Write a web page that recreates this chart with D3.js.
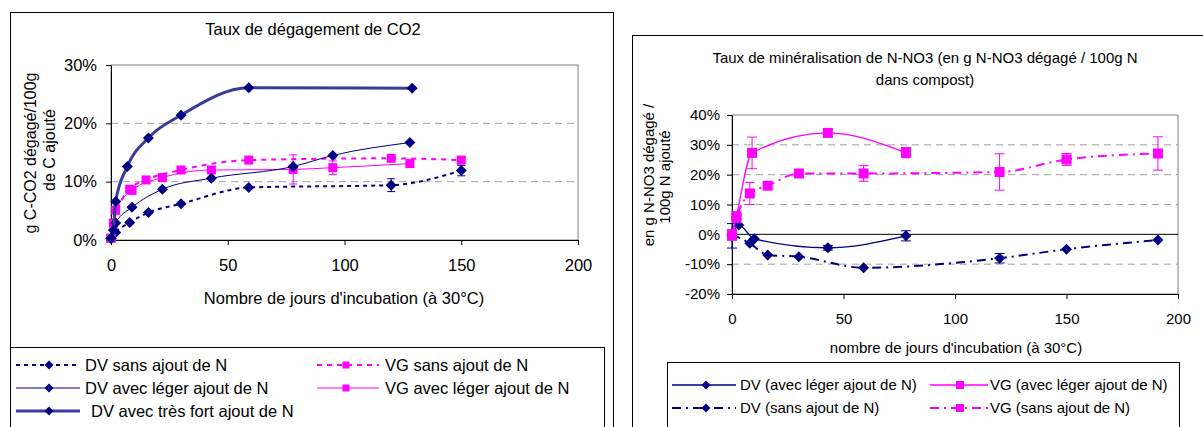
<!DOCTYPE html>
<html lang="fr">
<head>
<meta charset="UTF-8">
<title>Taux de dégagement de CO2 et minéralisation de N-NO3</title>
<script src="https://d3js.org/d3.v7.min.js"></script>
<style>
  body { margin: 0; background: #fff; font-family: "Liberation Sans", Arial, sans-serif; }
  svg text { fill: #000; }
</style>
</head>
<body>
<svg id="chart" width="1203" height="427"></svg>
<script>
// ---------- CO2 (left chart), values in % ----------
const co2Ticks = [0, 10, 20, 30];
const co2DayTicks = [0, 50, 100, 150, 200];

const co2DvSansDays = [0, 2, 8, 16, 30, 59, 120, 150];
const co2DvSans = [0.3, 1.3, 3.0, 4.7, 6.2, 9.0, 9.4, 11.9];
const co2DvSansErr = [0, 0, 0, 0, 0, 0, 1.1, 0.9];

const co2DvLegerDays = [0, 2, 9, 22, 43, 78, 95, 128];
const co2DvLeger = [0.3, 2.9, 5.6, 8.7, 10.6, 12.6, 14.5, 16.7];

const co2DvFortDays = [0, 1, 2, 7, 16, 30, 59, 129];
const co2DvFort = [0.3, 1.7, 6.6, 12.6, 17.5, 21.4, 26.1, 26.0];

const co2VgSansDays = [0, 1, 8, 15, 30, 59, 120, 150];
const co2VgSans = [0.3, 2.9, 8.7, 10.3, 12.0, 13.7, 14.0, 13.7];
const co2VgSansErr = [0, 0, 0, 0, 0, 0, 0, 0.4];

const co2VgLegerDays = [0, 2, 9, 22, 43, 78, 95, 128];
const co2VgLeger = [0.3, 5.1, 8.5, 10.7, 12.0, 12.1, 12.4, 13.1];
const co2VgLegerErr = [0, 0, 0, 0, 0, 2.5, 1.15, 0];

// ---------- N-NO3 (right chart), values in % ----------
const nTicks = [-20, -10, 0, 10, 20, 30, 40];
const nDayTicks = [0, 50, 100, 150, 200];

const nDvLegerDays = [0, 3, 10, 43, 78];
const nDvLeger = [-0.5, 3.1, -1.5, -4.5, -0.5];
const nDvLegerErr = [4.1, 0, 0, 0.8, 1.7];

const nVgLegerDays = [0, 2, 9, 43, 78];
const nVgLeger = [-0.5, 6.1, 27.3, 34.0, 27.4];
const nVgLegerErr = [1.3, 0, 5.3, 1.4, 1.7];

const nDvSansDays = [0, 8, 16, 30, 59, 120, 150, 191];
const nDvSans = [0, -3.0, -6.9, -7.5, -11.2, -8.0, -5.0, -1.9];
const nDvSansErr = [0, 0, 0, 0, 0, 1.6, 0, 0];

const nVgSansDays = [0, 2, 8, 16, 30, 59, 120, 150, 191];
const nVgSans = [0, 5.5, 13.7, 16.3, 20.4, 20.4, 20.9, 25.1, 27.1];
const nVgSansErr = [1.5, 0, 3.7, 0, 0, 2.6, 6.1, 2.0, 5.6];

const navy = "#000080", magenta = "#ff00ff", strong = "#3a3a9c";

const svg = d3.select("#chart");

function marker(g, shape, cx, cy, color, s) {
    if (shape === "diamond") {
        g.append("path")
            .attr("d", `M${cx},${cy - s}L${cx + s},${cy}L${cx},${cy + s}L${cx - s},${cy}Z`)
            .attr("fill", color);
    } else {
        g.append("rect")
            .attr("x", cx - s).attr("y", cy - s)
            .attr("width", 2 * s).attr("height", 2 * s)
            .attr("fill", color);
    }
}

function drawSeries(g, x, y, days, vals, errs, st) {
    const pts = days.map((d, i) => [d, vals[i], errs ? errs[i] : 0]);

    pts.filter(p => p[2] > 0).forEach(p => {
        const cx = x(p[0]);
        g.append("line").attr("x1", cx).attr("x2", cx)
            .attr("y1", y(p[1] - p[2])).attr("y2", y(p[1] + p[2]))
            .attr("stroke", st.color).attr("stroke-width", 1);
        [p[1] - p[2], p[1] + p[2]].forEach(v => {
            g.append("line").attr("x1", cx - st.cap).attr("x2", cx + st.cap)
                .attr("y1", y(v)).attr("y2", y(v))
                .attr("stroke", st.color).attr("stroke-width", 1);
        });
    });

    const line = d3.line()
        .x(p => x(p[0]))
        .y(p => y(p[1]))
        .curve(d3.curveMonotoneX);

    g.append("path").datum(pts)
        .attr("d", line)
        .attr("fill", "none")
        .attr("stroke", st.color)
        .attr("stroke-width", st.width)
        .attr("stroke-dasharray", st.dash || null);

    pts.forEach(p => marker(g, st.shape, x(p[0]), y(p[1]), st.markColor || st.color, st.size));
}

function legendItem(g, x0, x1, xm, xt, cy, st, label, fs) {
    g.append("line").attr("x1", x0).attr("x2", x1).attr("y1", cy).attr("y2", cy)
        .attr("stroke", st.color).attr("stroke-width", st.width)
        .attr("stroke-dasharray", st.dash || null);
    marker(g, st.shape, xm, cy, st.markColor || st.color, st.size - 1);
    g.append("text").attr("x", xt).attr("y", cy + fs * 0.36)
        .style("font-size", fs + "px").text(label);
}

// ================= LEFT CHART =================
const L = svg.append("g");
L.append("rect").attr("x", 10.5).attr("y", 12.5).attr("width", 603).attr("height", 440)
    .attr("fill", "#fff").attr("stroke", "#000");

const lx = d3.scaleLinear().domain([0, 200]).range([111, 578]);
const ly = d3.scaleLinear().domain([0, 30]).range([240, 65]);
const lfs = 16.5;

L.append("text").attr("x", 313).attr("y", 35).attr("text-anchor", "middle")
    .style("font-size", lfs + "px").text("Taux de dégagement de CO2");

L.append("rect").attr("x", 111).attr("y", 65).attr("width", 467).attr("height", 175)
    .attr("fill", "#fff").attr("stroke", "#808080");

co2Ticks.filter(t => t > 0 && t < 30).forEach(t => {
    L.append("line").attr("x1", 111).attr("x2", 578).attr("y1", ly(t)).attr("y2", ly(t))
        .attr("stroke", "#a0a0a0").attr("stroke-dasharray", "7,5");
});

const lyAxis = L.append("g").attr("transform", "translate(111,0)")
    .call(d3.axisLeft(ly).tickValues(co2Ticks).tickFormat(d => d + "%").tickSize(5).tickSizeOuter(0).tickPadding(9));
const lxAxis = L.append("g").attr("transform", "translate(0,240)")
    .call(d3.axisBottom(lx).tickValues(co2DayTicks).tickSize(5).tickSizeOuter(0).tickPadding(14));
[lyAxis, lxAxis].forEach(a => {
    a.selectAll("text").style("font-size", lfs + "px").style("font-family", "Liberation Sans, Arial, sans-serif").attr("fill", "#000");
    a.selectAll("line").attr("stroke", "#000");
    a.select(".domain").attr("stroke", "#000");
});

L.append("text").attr("x", 344).attr("y", 304).attr("text-anchor", "middle")
    .style("font-size", lfs + "px").text("Nombre de jours d'incubation (à 30°C)");

L.append("text").attr("transform", "translate(36,153) rotate(-90)").attr("text-anchor", "middle")
    .style("font-size", "16px").text("g C-CO2 dégagé/100g");
L.append("text").attr("transform", "translate(55,150) rotate(-90)").attr("text-anchor", "middle")
    .style("font-size", "16px").text("de C ajouté");

const stDvSans = { color: navy, width: 2, dash: "4,4", shape: "diamond", size: 5.5, cap: 4 };
const stDvLeger = { color: navy, width: 1, shape: "diamond", size: 5.5, cap: 4 };
const stDvFort = { color: strong, width: 3, shape: "diamond", size: 5.5, markColor: navy, cap: 4 };
const stVgSans = { color: magenta, width: 2, dash: "5,5", shape: "square", size: 4.5, cap: 4 };
const stVgLeger = { color: magenta, width: 1, shape: "square", size: 4.5, cap: 4 };

const lp = L.append("g");
drawSeries(lp, lx, ly, co2DvSansDays, co2DvSans, co2DvSansErr, stDvSans);
drawSeries(lp, lx, ly, co2VgSansDays, co2VgSans, co2VgSansErr, stVgSans);
drawSeries(lp, lx, ly, co2VgLegerDays, co2VgLeger, co2VgLegerErr, stVgLeger);
drawSeries(lp, lx, ly, co2DvLegerDays, co2DvLeger, null, stDvLeger);
drawSeries(lp, lx, ly, co2DvFortDays, co2DvFort, null, stDvFort);

L.append("rect").attr("x", 10.5).attr("y", 347.5).attr("width", 594).attr("height", 100)
    .attr("fill", "#fff").attr("stroke", "#000");
legendItem(L, 16, 80, 49, 85, 365, stDvSans, "DV sans ajout de N", lfs);
legendItem(L, 317, 379, 346, 385, 365, stVgSans, "VG sans ajout de N", lfs);
legendItem(L, 16, 80, 49, 85, 388, stDvLeger, "DV avec léger ajout de N", lfs);
legendItem(L, 317, 379, 346, 385, 388, stVgLeger, "VG  avec léger ajout de N", lfs);
legendItem(L, 16, 80, 49, 91, 411, stDvFort, "DV avec très fort ajout de N", lfs);

// ================= RIGHT CHART =================
const R = svg.append("g");
R.append("rect").attr("x", 632.5).attr("y", 35.5).attr("width", 590).attr("height", 420)
    .attr("fill", "#fff").attr("stroke", "#000");

const rx = d3.scaleLinear().domain([0, 200]).range([732, 1178]);
const ry = d3.scaleLinear().domain([-20, 40]).range([294, 115]);
const rfs = 15;

R.append("text").attr("x", 925).attr("y", 63).attr("text-anchor", "middle")
    .style("font-size", rfs + "px").text("Taux de minéralisation de N-NO3 (en g N-NO3 dégagé / 100g N");
R.append("text").attr("x", 925).attr("y", 85).attr("text-anchor", "middle")
    .style("font-size", rfs + "px").text("dans compost)");

R.append("rect").attr("x", 732).attr("y", 115).attr("width", 446).attr("height", 179)
    .attr("fill", "#fff").attr("stroke", "#808080");

nTicks.filter(t => t !== 0 && t > -20 && t < 40).forEach(t => {
    R.append("line").attr("x1", 732).attr("x2", 1178).attr("y1", ry(t)).attr("y2", ry(t))
        .attr("stroke", "#a0a0a0").attr("stroke-dasharray", "7,5");
});
R.append("line").attr("x1", 732).attr("x2", 1178).attr("y1", ry(0)).attr("y2", ry(0))
    .attr("stroke", "#000");

const ryAxis = R.append("g").attr("transform", "translate(732,0)")
    .call(d3.axisLeft(ry).tickValues(nTicks).tickFormat(d => d + "%").tickSize(5).tickSizeOuter(0).tickPadding(7));
const rxAxis = R.append("g").attr("transform", "translate(0,294)")
    .call(d3.axisBottom(rx).tickValues(nDayTicks).tickSize(5).tickSizeOuter(0).tickPadding(14));
[ryAxis, rxAxis].forEach(a => {
    a.selectAll("text").style("font-size", rfs + "px").style("font-family", "Liberation Sans, Arial, sans-serif").attr("fill", "#000");
    a.selectAll("line").attr("stroke", "#000");
    a.select(".domain").attr("stroke", "#000");
});

R.append("text").attr("x", 956).attr("y", 353).attr("text-anchor", "middle")
    .style("font-size", rfs + "px").text("nombre de jours d'incubation (à 30°C)");

R.append("text").attr("transform", "translate(654,175) rotate(-90)").attr("text-anchor", "middle")
    .style("font-size", rfs + "px").text("en g N-NO3 dégagé /");
R.append("text").attr("transform", "translate(670,177) rotate(-90)").attr("text-anchor", "middle")
    .style("font-size", rfs + "px").text("100g N ajouté");

const stNDvLeger = { color: navy, width: 1.3, shape: "diamond", size: 5.5, cap: 5 };
const stNVgLeger = { color: magenta, width: 1.3, shape: "square", size: 5, cap: 5 };
const stNDvSans = { color: navy, width: 2, dash: "9,5,2,5", shape: "diamond", size: 5.5, cap: 5 };
const stNVgSans = { color: magenta, width: 2, dash: "9,5,2,5", shape: "square", size: 5, cap: 5 };

const rp = R.append("g");
drawSeries(rp, rx, ry, nDvSansDays, nDvSans, nDvSansErr, stNDvSans);
drawSeries(rp, rx, ry, nDvLegerDays, nDvLeger, nDvLegerErr, stNDvLeger);
drawSeries(rp, rx, ry, nVgSansDays, nVgSans, nVgSansErr, stNVgSans);
drawSeries(rp, rx, ry, nVgLegerDays, nVgLeger, nVgLegerErr, stNVgLeger);

R.append("rect").attr("x", 667.5).attr("y", 362.5).attr("width", 512).attr("height", 80)
    .attr("fill", "#fff").attr("stroke", "#000");
legendItem(R, 672, 736, 706, 740, 385, stNDvLeger, "DV (avec léger ajout de N)", rfs);
legendItem(R, 930, 988, 960, 990, 385, stNVgLeger, "VG (avec léger ajout de N)", rfs);
legendItem(R, 672, 736, 706, 740, 408, stNDvSans, "DV (sans ajout de N)", rfs);
legendItem(R, 930, 988, 960, 990, 408, stNVgSans, "VG (sans ajout de N)", rfs);
</script>
</body>
</html>
